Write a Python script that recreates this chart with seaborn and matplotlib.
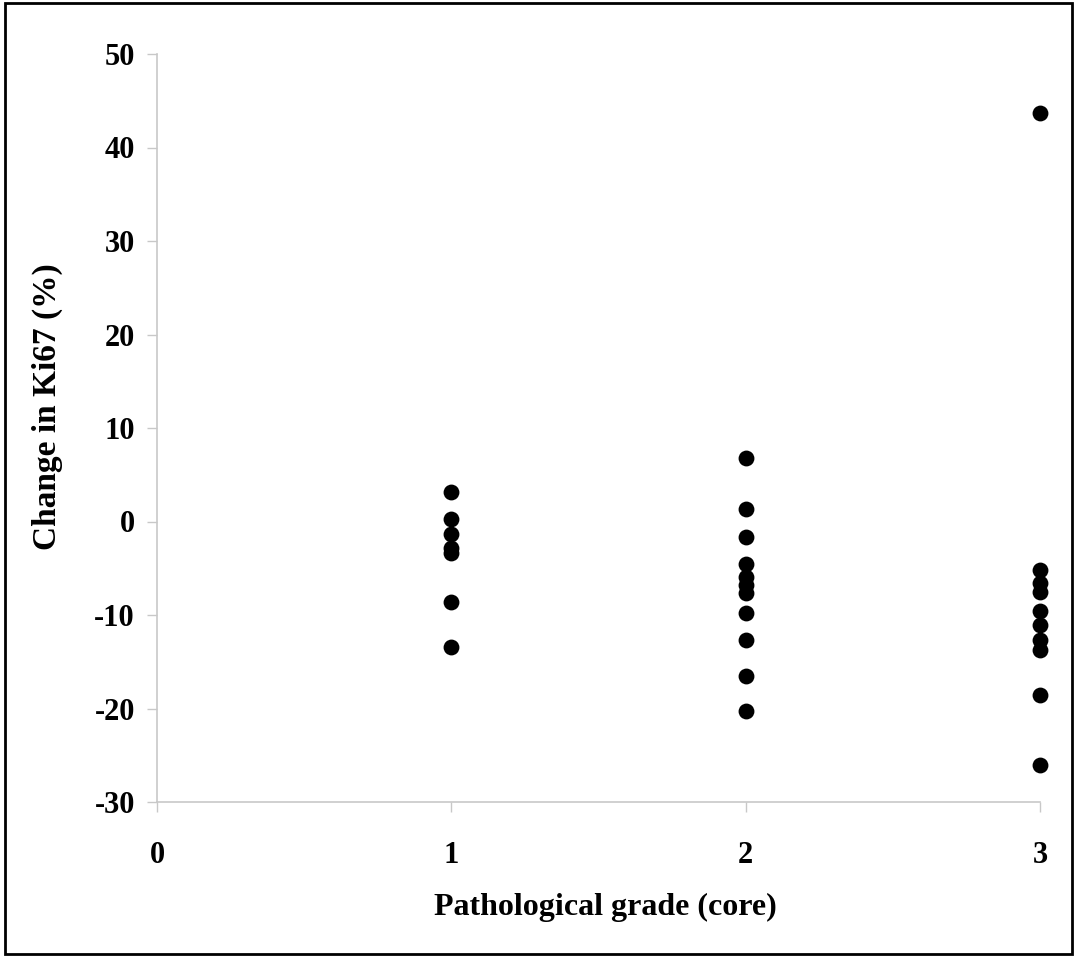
import matplotlib
matplotlib.use("Agg")
import matplotlib.pyplot as plt
import seaborn as sns
import pandas as pd
from matplotlib.patches import Rectangle

grade1 = [3.2, 0.3, -1.3, -2.8, -3.4, -8.6, -13.4]
grade2 = [6.8, 1.3, -1.7, -4.5, -5.9, -6.8, -7.6, -9.8, -12.7, -16.5, -20.3]
grade3 = [43.7, -5.2, -6.6, -7.5, -9.6, -11.1, -12.7, -13.7, -18.6, -26.0]
x_ticks = [0, 1, 2, 3]
y_ticks = [-30, -20, -10, 0, 10, 20, 30, 40, 50]

df = pd.DataFrame({
    "grade": [1] * len(grade1) + [2] * len(grade2) + [3] * len(grade3),
    "change": grade1 + grade2 + grade3,
})

sns.set_style("white")
plt.rcParams["font.family"] = ["Liberation Serif", "DejaVu Serif"]
plt.rcParams["font.weight"] = "bold"
plt.rcParams["text.color"] = "black"
plt.rcParams["axes.labelcolor"] = "black"

fig = plt.figure(figsize=(10.76, 9.58), dpi=100)
ax = fig.add_axes([157 / 1076, 156 / 958, 883 / 1076, 748 / 958])

sns.scatterplot(data=df, x="grade", y="change", ax=ax, color="black",
                s=130, edgecolor="black", linewidth=0, clip_on=False, legend=False)

ax.set_xlim(0, 3)
ax.set_ylim(-30, 50)
ax.set_xticks(x_ticks)
ax.set_yticks(y_ticks)
ax.set_xticklabels([str(t) for t in x_ticks], fontsize=22, fontweight="bold")
ax.set_yticklabels([str(t) for t in y_ticks], fontsize=22, fontweight="bold")

for side in ["top", "right"]:
    ax.spines[side].set_visible(False)
for side in ["left", "bottom"]:
    ax.spines[side].set_color("#c8c8c8")
    ax.spines[side].set_linewidth(1.2)
ax.tick_params(axis="both", which="major", direction="out", length=7,
               width=1.0, color="#c8c8c8", labelcolor="black",
               bottom=True, left=True)
ax.tick_params(axis="y", pad=9)
ax.tick_params(axis="x", pad=21)

ax.set_xlabel("Pathological grade (core)", fontsize=23, fontweight="bold")
ax.set_ylabel("Change in Ki67 (%)", fontsize=24, fontweight="bold")
ax.yaxis.set_label_coords(-0.106, 0.529)
ax.xaxis.set_label_coords(0.508, -0.122)

fig.patches.append(Rectangle((5 / 1076, 4 / 958), 1067 / 1076, 951 / 958,
                             transform=fig.transFigure, fill=False,
                             edgecolor="black", linewidth=2))

fig.savefig("out.png", dpi=100)
